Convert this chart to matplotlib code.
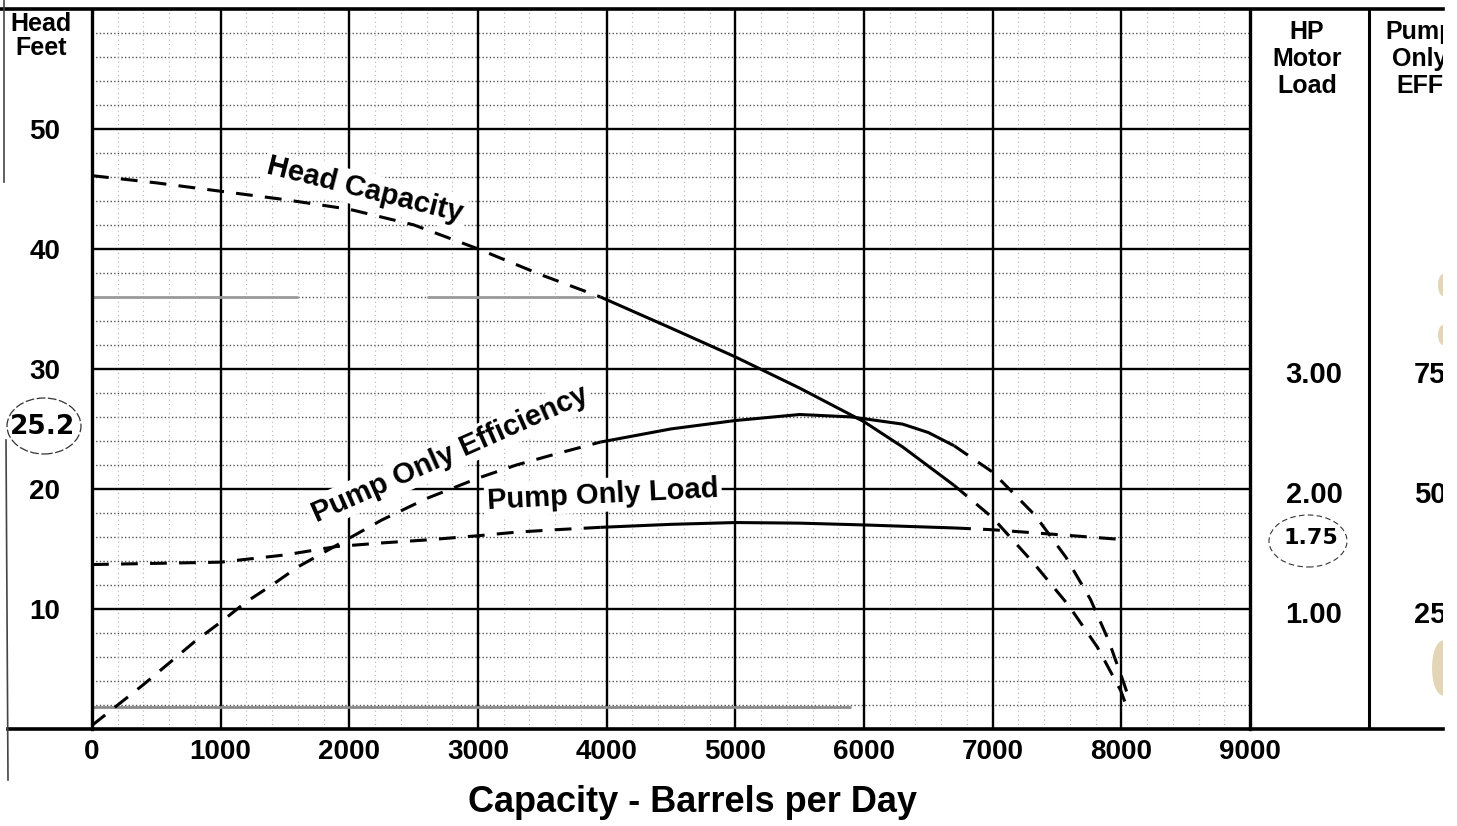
import matplotlib
matplotlib.use('Agg')
import matplotlib.pyplot as plt
from matplotlib.lines import Line2D
from matplotlib.patches import Ellipse

# --- data (capacity in barrels/day, head in feet) ---
head_x_dash1 = [0, 500, 1000, 1500, 2000, 2500, 3000, 3500, 3950]
head_y_dash1 = [46.1, 45.5, 44.8, 44.1, 43.3, 42.0, 40.0, 37.8, 36.0]
head_x_solid = [3950, 4500, 5000, 5500, 6000, 6300, 6700]
head_y_solid = [36.0, 33.4, 31.0, 28.4, 25.6, 23.5, 20.3]
head_x_dash2 = [6700, 7000, 7320, 7590, 7815, 7995, 8030]
head_y_dash2 = [20.3, 17.6, 13.8, 10.3, 6.8, 3.2, 2.2]

eff_x_dash1 = [0, 200, 400, 600, 800, 1000, 1200, 1400, 1600, 1900, 2250, 2600, 3000, 3300, 3600, 3950]
eff_y_dash1 = [0.3, 2.0, 3.7, 5.5, 7.3, 8.9, 10.6, 12.0, 13.5, 15.3, 17.4, 19.2, 20.9, 22.0, 22.9, 23.9]
eff_x_solid = [3950, 4500, 5000, 5500, 5900, 6300, 6500, 6700]
eff_y_solid = [23.9, 25.0, 25.7, 26.2, 26.0, 25.4, 24.7, 23.6]
eff_x_dash2 = [6700, 7000, 7330, 7570, 7760, 7900, 8020, 8070]
eff_y_dash2 = [23.6, 21.4, 17.8, 14.3, 10.8, 7.4, 3.8, 2.2]

load_x_dash1 = [0, 1000, 1500, 1900, 2250, 2600, 3000, 3300, 3600, 3950]
load_y_dash1 = [13.7, 13.9, 14.5, 15.2, 15.5, 15.75, 16.1, 16.4, 16.6, 16.8]
load_x_solid = [3950, 4500, 5000, 5500, 6000, 6700]
load_y_solid = [16.8, 17.05, 17.2, 17.15, 17.0, 16.75]
load_x_dash2 = [6700, 7000, 7500, 8050]
load_y_dash2 = [16.75, 16.6, 16.2, 15.75]

x_ticks = [0, 1000, 2000, 3000, 4000, 5000, 6000, 7000, 8000, 9000]
y_ticks = [10, 20, 30, 40, 50]
hp_ticks = [3.00, 2.00, 1.00]        # HP motor load, 1.00 per 10 ft
eff_ticks = [75, 50, 25]             # pump only efficiency %, 25 per 10 ft

W, H = 1457, 826
plt.rcParams['font.family'] = ['Liberation Sans', 'DejaVu Sans']
fig = plt.figure(figsize=(W / 100, H / 100), dpi=100)
fig.patch.set_facecolor('white')


def box(x0, y0, x1, y1):
    # pixel box (top-left origin) -> figure fraction rect
    return [x0 / W, 1 - y1 / H, (x1 - x0) / W, (y1 - y0) / H]


def fline(xs, ys, **kw):
    fig.add_artist(Line2D([x / W for x in xs], [1 - y / H for y in ys],
                          transform=fig.transFigure, **kw))


ax = fig.add_axes(box(92, 10, 1250, 729))
ax.set_xlim(0, 9000)
ax.set_ylim(0, 59.9)

# minor grid
for y in range(2, 60, 2):
    if y % 10:
        ax.axhline(y, color='#555555', lw=1.0, ls=(0, (1, 1.6)), zorder=1)
for x in range(200, 9000, 200):
    if x % 1000:
        ax.axvline(x, color='#b4b4b4', lw=0.8, ls=(0, (1, 3)), zorder=1)
# major grid
for x in x_ticks[1:-1]:
    ax.axvline(x, color='black', lw=1.7, zorder=1.5)
for y in y_ticks:
    ax.axhline(y, color='black', lw=1.7, zorder=1.5)

# scan artefact lines
ax.hlines(36, 0, 1600, color='#9a9a9a', lw=2, zorder=1.6)
ax.hlines(36, 2600, 3900, color='#9a9a9a', lw=2, zorder=1.6)
ax.hlines(1.85, 0, 5900, color='#8a8a8a', lw=2, zorder=1.6)

for s in ['top', 'bottom']:
    ax.spines[s].set_visible(False)
ax.spines['left'].set_linewidth(2.4)
ax.spines['right'].set_linewidth(2.4)

dash = (0, (5.5, 4))
kw = dict(color='black', lw=2.2, zorder=4, solid_capstyle='butt')
for xs, ys, ls in [(head_x_dash1, head_y_dash1, dash), (head_x_solid, head_y_solid, '-'),
                   (head_x_dash2, head_y_dash2, dash),
                   (eff_x_dash1, eff_y_dash1, dash), (eff_x_solid, eff_y_solid, '-'),
                   (eff_x_dash2, eff_y_dash2, dash),
                   (load_x_dash1, load_y_dash1, dash), (load_x_solid, load_y_solid, '-'),
                   (load_x_dash2, load_y_dash2, dash)]:
    ax.plot(xs, ys, ls=ls, **kw)

lab = dict(fontsize=21, fontweight='bold', ha='center', va='center',
           rotation_mode='anchor', zorder=3,
           bbox=dict(boxstyle='square,pad=0.1', fc='white', ec='none'))
ax.text(2122, 44.9, 'Head Capacity', rotation=-14, **lab)
ax.text(2783, 22.9, 'Pump Only Efficiency', rotation=24, **lab)
ax.text(3972, 19.5, 'Pump Only Load', rotation=3, **lab)

ax.set_xticks(x_ticks)
ax.set_xticklabels([str(v) for v in x_ticks], fontsize=20, fontweight='bold')
ax.set_yticks(y_ticks)
ax.set_yticklabels([str(v) for v in y_ticks], fontsize=20, fontweight='bold')
ax.tick_params(axis='x', length=0, pad=7)
ax.tick_params(axis='y', length=0, pad=23)

# right-hand columns
ax2 = fig.add_axes(box(1250, 10, 1443, 729))
ax2.set_xlim(1250, 1443)
ax2.set_ylim(0, 59.9)
ax2.axis('off')
ax2.axvline(1369, color='black', lw=2.2)
ax2.text(1307, 55.8, 'HP\nMotor\nLoad', fontsize=18, fontweight='bold',
         ha='center', va='center', linespacing=1.15)
ax2.text(1420, 55.8, 'Pump\nOnly\nEFF', fontsize=18, fontweight='bold',
         ha='center', va='center', linespacing=1.15, clip_on=True)
for v in hp_ticks:
    ax2.text(1314, v * 10 - 0.5, f'{v:.2f}', fontsize=21, fontweight='bold',
             ha='center', va='center')
for v in eff_ticks:
    ax2.text(1414, v / 2.5 - 0.5, str(v), fontsize=21, fontweight='bold',
             ha='left', va='center', clip_on=True)
# stains along the cut edge of the scan
for (sx, sy, sw, sh) in [(1443, 285, 10, 22), (1443, 335, 10, 20), (1443, 668, 22, 55)]:
    ax2.add_patch(Ellipse((sx / 100, (H - sy) / 100), sw / 100, sh / 100,
                          transform=fig.dpi_scale_trans, fc='#dccca4',
                          ec='none', alpha=0.8, clip_on=True,
                          clip_box=ax2.bbox))

# frame lines of the scanned sheet
fline([0, 1443], [9, 9], color='black', lw=2.6)
fline([8, 1443], [729, 729], color='black', lw=2.6)
fline([4, 4], [0, 182], color='#444444', lw=1.2)
fline([6, 8], [440, 780], color='#444444', lw=1.2)

fig.text(41 / W, 1 - 36 / H, 'Head\nFeet', fontsize=18, fontweight='bold',
         ha='center', va='center', linespacing=1.0)
fig.text(692 / W, 1 - 803 / H, 'Capacity - Barrels per Day', fontsize=26,
         fontweight='bold', ha='center', va='center')

# handwritten notes
fig.text(43 / W, 1 - 427 / H, '25.2', fontsize=19, fontweight='bold',
         ha='center', va='center', family='DejaVu Sans')
fig.add_artist(Ellipse((44 / 100, (H - 426) / 100), 0.74, 0.56,
                       transform=fig.dpi_scale_trans, fill=False,
                       ec='#333333', lw=0.9, ls=(0, (7, 2))))
fig.text(1311 / W, 1 - 538 / H, '1.75', fontsize=16, fontweight='bold',
         ha='center', va='center', family='DejaVu Sans')
fig.add_artist(Ellipse((1308 / 100, (H - 541) / 100), 0.78, 0.52,
                       transform=fig.dpi_scale_trans, fill=False,
                       ec='#333333', lw=0.8, ls=(0, (5, 3))))

fig.savefig('out.png', dpi=100)
